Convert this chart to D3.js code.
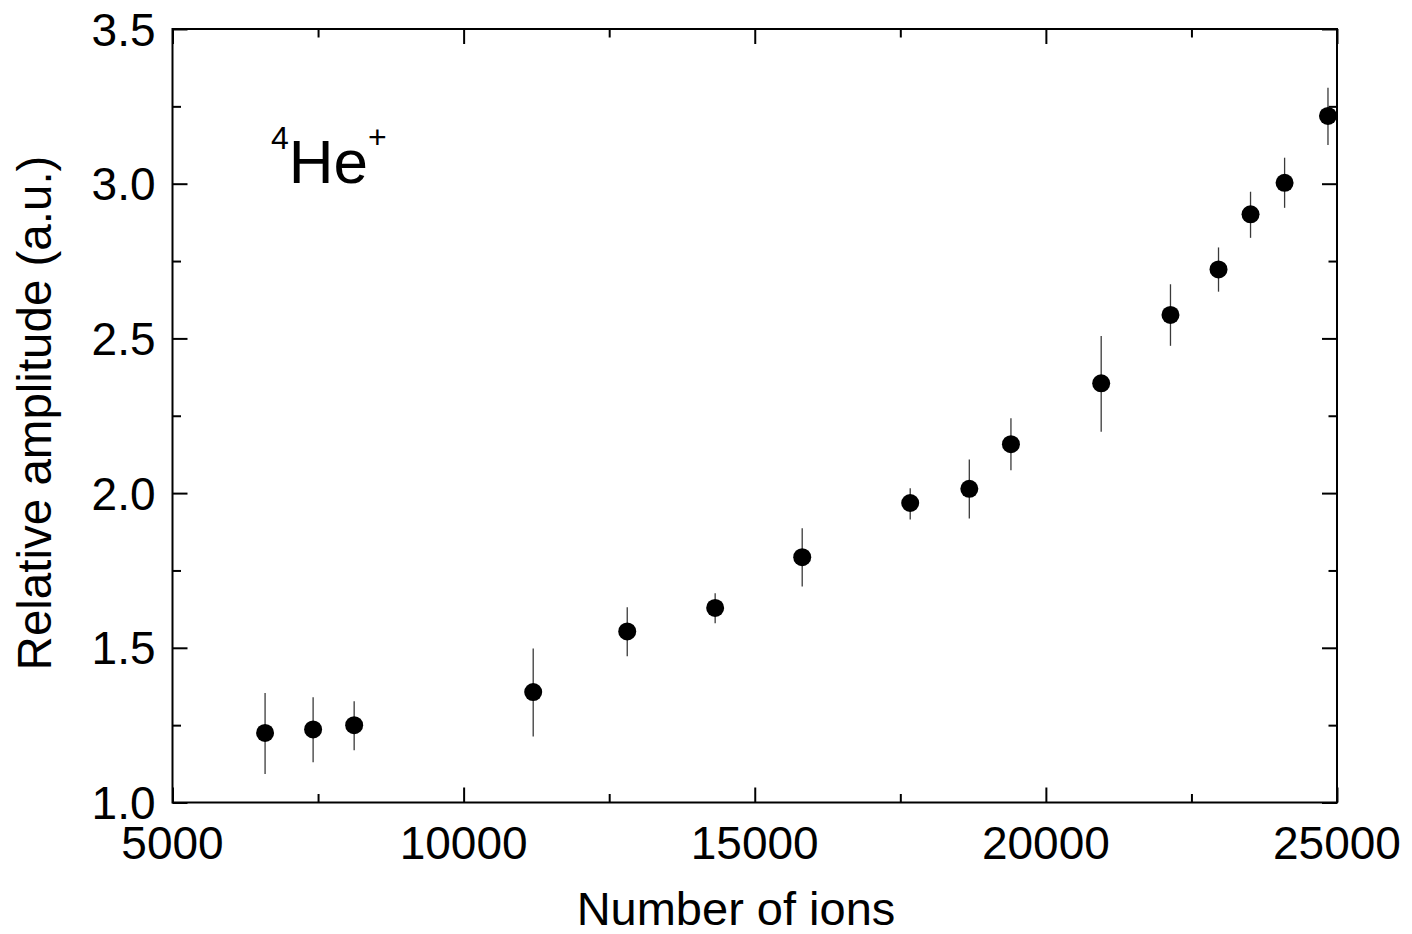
<!DOCTYPE html>
<meta charset="utf-8">
<html>
<head>
<style>
  body { margin: 0; background: #fff; }
  text { font-family: Arial, "Liberation Sans", sans-serif; fill: #000; }
</style>
</head>
<body>
<div id="chart"></div>
<script src="https://d3js.org/d3.v7.min.js"></script>
<script>

  // data
  var ions      = [6590, 7415, 8120, 11195, 12810, 14320, 15815, 17670, 18685, 19400, 20950, 22140, 22965, 23515, 24100, 24845];
  var amplitude = [1.225, 1.236, 1.250, 1.357, 1.553, 1.629, 1.793, 1.968, 2.014, 2.158, 2.355, 2.576, 2.723, 2.901, 3.003, 3.219];
  var errLow    = [1.092, 1.130, 1.169, 1.213, 1.473, 1.579, 1.698, 1.915, 1.918, 2.074, 2.198, 2.476, 2.651, 2.825, 2.922, 3.125];
  var errHigh   = [1.354, 1.340, 1.327, 1.498, 1.631, 1.676, 1.886, 2.016, 2.109, 2.242, 2.508, 2.675, 2.794, 2.974, 3.084, 3.310];

  var xMajor = [5000, 10000, 15000, 20000, 25000];
  var xMinor = [7500, 12500, 17500, 22500];
  var yMajor = [1.0, 1.5, 2.0, 2.5, 3.0, 3.5];
  var yMinor = [1.25, 1.75, 2.25, 2.75, 3.25];

  var margin = {top: 29, right: 75, bottom: 131.5, left: 172.5},
      W = 1412, H = 934,
      width = W - margin.left - margin.right,
      height = H - margin.top - margin.bottom;

  var svg = d3.select("#chart")
    .append("svg")
      .attr("width", W)
      .attr("height", H)
    .append("g")
      .attr("transform", "translate(" + margin.left + "," + margin.top + ")");

  var x = d3.scaleLinear().domain([5000, 25000]).range([0, width]);
  var y = d3.scaleLinear().domain([1.0, 3.5]).range([height, 0]);

  var data = ions.map(function(n, i) {
    return {n: n, v: amplitude[i], lo: errLow[i], hi: errHigh[i]};
  });

  // helper to draw inward ticks on a side
  function ticks(axisFn, scale, values, size, transform) {
    var g = svg.append("g")
      .attr("transform", transform)
      .call(axisFn(scale).tickValues(values).tickSize(size).tickFormat(""));
    g.select(".domain").remove();
    g.selectAll("line").attr("stroke", "#000").attr("stroke-width", 2);
  }

  // major / minor ticks, pointing inward, all four sides
  ticks(d3.axisTop, x, xMajor, 15, "translate(0," + height + ")");
  ticks(d3.axisTop, x, xMinor, 8.5, "translate(0," + height + ")");
  ticks(d3.axisBottom, x, xMajor, 15, "translate(0,0)");
  ticks(d3.axisBottom, x, xMinor, 8.5, "translate(0,0)");
  ticks(d3.axisRight, y, yMajor, 15, "translate(0,0)");
  ticks(d3.axisRight, y, yMinor, 8.5, "translate(0,0)");
  ticks(d3.axisLeft, y, yMajor, 15, "translate(" + width + ",0)");
  ticks(d3.axisLeft, y, yMinor, 8.5, "translate(" + width + ",0)");

  // frame
  svg.append("rect")
    .attr("width", width)
    .attr("height", height)
    .attr("fill", "none")
    .attr("stroke", "#000")
    .attr("stroke-width", 2);

  // tick labels
  svg.selectAll(".xlab")
    .data(xMajor)
    .enter().append("text")
      .attr("x", function(d) { return x(d); })
      .attr("y", height + 56)
      .attr("text-anchor", "middle")
      .style("font-size", "46px")
      .text(function(d) { return d; });

  svg.selectAll(".ylab")
    .data(yMajor)
    .enter().append("text")
      .attr("x", -17)
      .attr("y", function(d) { return y(d); })
      .attr("dy", "0.36em")
      .attr("text-anchor", "end")
      .style("font-size", "46px")
      .text(function(d) { return d.toFixed(1); });

  // axis titles
  svg.append("text")
    .attr("x", 736 - margin.left)
    .attr("y", 925 - margin.top)
    .attr("text-anchor", "middle")
    .style("font-size", "47px")
    .text("Number of ions");

  svg.append("text")
    .attr("transform", "translate(" + (51 - margin.left) + "," + (413 - margin.top) + ") rotate(-90)")
    .attr("text-anchor", "middle")
    .style("font-size", "47.5px")
    .text("Relative amplitude (a.u.)");

  // error bars
  svg.selectAll(".err")
    .data(data)
    .enter().append("line")
      .attr("x1", function(d) { return x(d.n); })
      .attr("x2", function(d) { return x(d.n); })
      .attr("y1", function(d) { return y(d.lo); })
      .attr("y2", function(d) { return y(d.hi); })
      .attr("stroke", "#3a3a3a")
      .attr("stroke-width", 1.3);

  // points
  svg.selectAll(".pt")
    .data(data)
    .enter().append("circle")
      .attr("cx", function(d) { return x(d.n); })
      .attr("cy", function(d) { return y(d.v); })
      .attr("r", 9)
      .attr("fill", "#000");

  // 4He+ label
  var lab = svg.append("text")
    .attr("x", 271 - margin.left)
    .attr("y", 183 - margin.top);
  lab.append("tspan").style("font-size", "32px").attr("dy", -34).text("4");
  lab.append("tspan").style("font-size", "62px").attr("dy", 34).text("He");
  lab.append("tspan").style("font-size", "32px").attr("dy", -35).text("+");

</script>
</body>
</html>
